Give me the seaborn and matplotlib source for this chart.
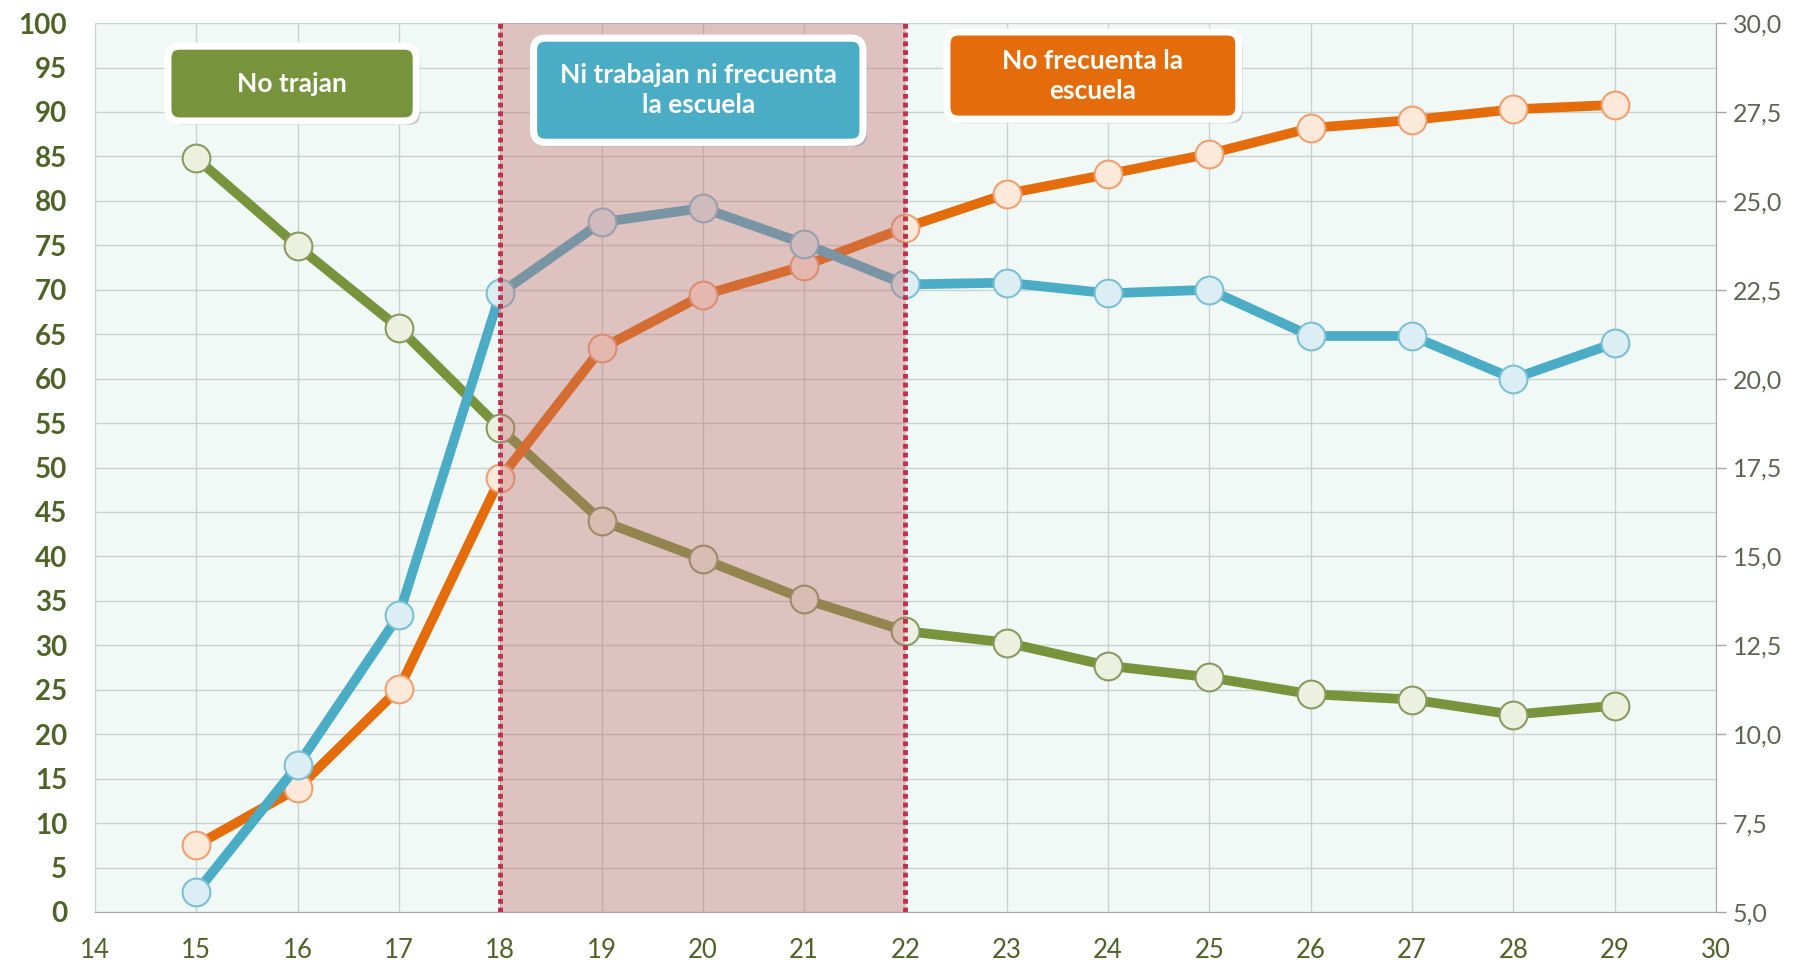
import numpy as np
import pandas as pd
import matplotlib
matplotlib.use("Agg")
import matplotlib.pyplot as plt
import matplotlib.patheffects as pe
from matplotlib.patches import FancyBboxPatch
from matplotlib.transforms import IdentityTransform
from matplotlib.ticker import FuncFormatter
import seaborn as sns

# Datos
edad = [15, 16, 17, 18, 19, 20, 21, 22, 23, 24, 25, 26, 27, 28, 29]
no_trabajan = [84.8, 74.9, 65.7, 54.4, 44.0, 39.7, 35.2, 31.6, 30.3, 27.7, 26.4, 24.5, 23.9, 22.2, 23.2]
no_frecuenta = [7.5, 13.9, 25.1, 48.8, 63.4, 69.4, 72.7, 77.0, 80.8, 83.0, 85.3, 88.2, 89.1, 90.3, 90.8]
ni_ni = [5.55, 9.12, 13.35, 22.4, 24.4, 24.8, 23.8, 22.65, 22.7, 22.4, 22.5, 21.2, 21.2, 20.0, 21.0]

etiquetas = ["No trajan", "Ni trabajan ni frecuenta\nla escuela", "No frecuenta la\nescuela"]

df = pd.DataFrame({"edad": edad, "no_trabajan": no_trabajan,
                   "no_frecuenta": no_frecuenta, "ni_ni": ni_ni})

sns.set_style("white")
plt.rcParams['font.family'] = ['Lato', 'DejaVu Sans']

verde = "#77933c"
naranja = "#e46c0a"
azul = "#4bacc6"

fig, ax = plt.subplots(figsize=(18.1, 9.63), dpi=100)
fig.subplots_adjust(left=0.0525, right=0.948, top=0.976, bottom=0.053)
ax.set_facecolor("#f1f9f6")

sns.lineplot(data=df, x="edad", y="no_trabajan", ax=ax, color=verde, lw=7,
             marker="o", markersize=20, markerfacecolor="#ebf1de",
             markeredgecolor="#8a9a60", markeredgewidth=1.5, zorder=3)
sns.lineplot(data=df, x="edad", y="no_frecuenta", ax=ax, color=naranja, lw=7,
             marker="o", markersize=20, markerfacecolor="#fde9d9",
             markeredgecolor="#f0a070", markeredgewidth=1.5, zorder=4)

ax.set_xlim(14, 30)
ax.set_ylim(0, 100)
ax.set_xticks(range(14, 31))
ax.set_yticks(range(0, 101, 5))
ax.grid(True, color="#c9d2ce", lw=1)
ax.set_axisbelow(True)
ax.set_xlabel("")
ax.set_ylabel("")
for s in ["left", "top", "right"]:
    ax.spines[s].set_visible(False)
ax.spines["bottom"].set_color("#a6a6a6")
ax.tick_params(axis="y", length=0, pad=20, labelsize=20, labelcolor="#4f6228")
ax.tick_params(axis="x", length=0, pad=19, labelsize=18.5, labelcolor="#4f6228")
for lb in ax.get_yticklabels():
    lb.set_fontweight("bold")

ax2 = ax.twinx()
ax2.set_facecolor("none")
sns.lineplot(data=df, x="edad", y="ni_ni", ax=ax2, color=azul, lw=7,
             marker="o", markersize=20, markerfacecolor="#daeef3",
             markeredgecolor="#7fbfd3", markeredgewidth=1.5, zorder=3)
ax2.set_ylim(5, 30)
ax2.set_yticks(np.arange(5, 30.1, 2.5))
ax2.yaxis.set_major_formatter(FuncFormatter(lambda v, p: f"{v:.1f}".replace(".", ",")))
ax2.set_ylabel("")
for s in ["left", "top", "bottom"]:
    ax2.spines[s].set_visible(False)
ax2.spines["right"].set_color("#a6a6a6")
ax2.tick_params(axis="y", length=7, width=1, color="#a6a6a6", pad=5,
                labelsize=18, labelcolor="#5c6652")

# zona sombreada 18-22
ax2.axvspan(18, 22, color="#c07070", alpha=0.4, lw=0, zorder=5)
for xv in [18, 22]:
    ax2.axvline(xv, color="#c0304a", lw=3.5, ls=(0, (1, 0.8)), zorder=6)

# cajas de texto
cajas = [((14.72, 89.0), (17.17, 97.4), verde, etiquetas[0]),
         ((18.33, 86.6), (21.58, 98.3), azul, etiquetas[1]),
         ((22.41, 89.2), (25.29, 99.0), naranja, etiquetas[2])]
for (x0, y0), (x1, y1), col, txt in cajas:
    (px0, py0) = ax.transData.transform((x0, y0))
    (px1, py1) = ax.transData.transform((x1, y1))
    caja = FancyBboxPatch((px0, py0), px1 - px0, py1 - py0,
                          boxstyle="round,pad=0,rounding_size=12",
                          fc=col, ec="white", lw=5, transform=IdentityTransform(),
                          zorder=7)
    caja.set_path_effects([pe.withSimplePatchShadow(offset=(3, -3), shadow_rgbFace="#7f7f7f", alpha=0.35),
                           pe.Normal()])
    ax2.add_artist(caja)
    ax2.text((x0 + x1) / 2, ax2.transData.inverted().transform(
                 ax.transData.transform((0, (y0 + y1) / 2)))[1],
             txt, ha="center", va="center", color="white", fontsize=19,
             fontweight="bold", linespacing=1.3, zorder=8)

fig.savefig("out.png", dpi=100)
